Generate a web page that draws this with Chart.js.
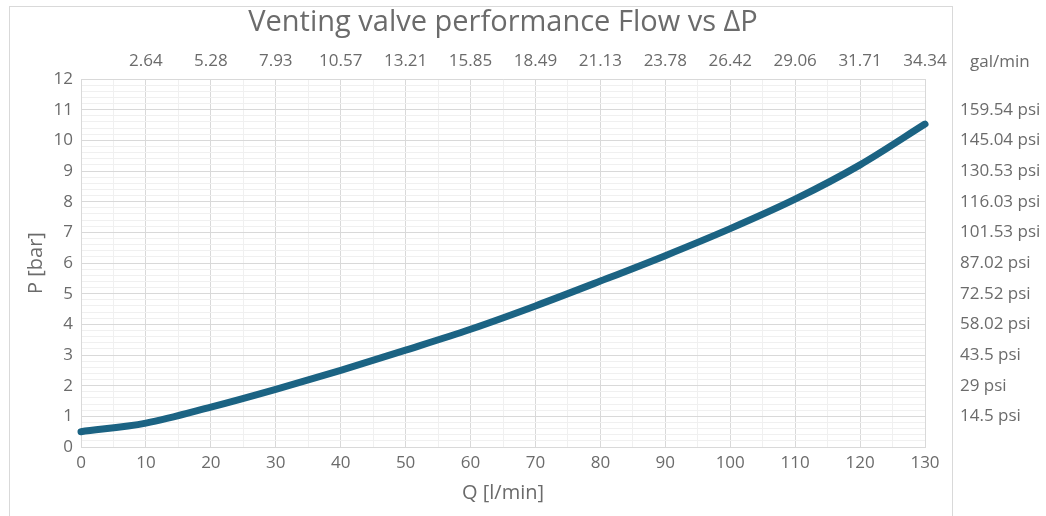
<!DOCTYPE html>
<html>
<head>
<meta charset="utf-8">
<title>Venting valve performance Flow vs ΔP</title>
<script src="https://cdn.jsdelivr.net/npm/chart.js@4.4.1/dist/chart.umd.min.js"></script>
<style>
  body { margin: 0; background: #fff; }
  #wrap { width: 1046px; height: 516px; }
</style>
</head>
<body>
<div id="wrap"><canvas id="myChart"></canvas></div>
<script>
"use strict";
// flow in l/min, pressure in bar
var flow = [0, 10, 20, 30, 40, 50, 60, 70, 80, 90, 100, 110, 120, 130];
var pressure = [0.50, 0.78, 1.30, 1.88, 2.50, 3.16, 3.84, 4.60, 5.41, 6.24, 7.12, 8.08, 9.20, 10.53];
// secondary labels
var galLabels = ["", "2.64", "5.28", "7.93", "10.57", "13.21", "15.85", "18.49", "21.13", "23.78", "26.42", "29.06", "31.71", "34.34"];
var psiLabels = ["", "14.5 psi", "29 psi", "43.5 psi", "58.02 psi", "72.52 psi", "87.02 psi", "101.53 psi", "116.03 psi", "130.53 psi", "145.04 psi", "159.54 psi", ""];

var FONT = "'Open Sans', sans-serif";
var TXT = "#6b6b6b";
var MAJOR = "#d9d9d9";
var MINOR = "#f0f0f0";

var points = flow.map(function (q, i) { return { x: q, y: pressure[i] }; });

function isInt(v) { return Math.abs(v - Math.round(v)) < 1e-6; }

var extras = {
    id: "extras",
    beforeDraw: function (chart) {
        var c = chart.ctx;
        c.save();
        c.fillStyle = "#fff";
        c.fillRect(0, 0, chart.width, chart.height);
        c.restore();
    },
    afterDraw: function (chart) {
        var c = chart.ctx;
        c.save();
        c.strokeStyle = MAJOR;
        c.lineWidth = 1;
        c.strokeRect(9.5, 6.5, 943, 530);
        c.fillStyle = TXT;
        c.font = "17px " + FONT;
        c.textBaseline = "middle";
        c.textAlign = "left";
        c.fillText("gal/min", 970, 62);
        c.restore();
    }
};

var ctx = document.getElementById("myChart");
var myChart = new Chart(ctx, {
    type: "line",
    data: {
        datasets: [{
            data: points,
            xAxisID: "x",
            yAxisID: "y",
            borderColor: "#1b6383",
            borderWidth: 7,
            borderCapStyle: "round",
            borderJoinStyle: "round",
            pointRadius: 0,
            cubicInterpolationMode: "monotone",
            clip: false
        }]
    },
    options: {
        responsive: true,
        maintainAspectRatio: false,
        animation: false,
        layout: { padding: 0 },
        plugins: {
            legend: { display: false },
            tooltip: { enabled: false },
            title: {
                display: true,
                text: "Venting valve performance Flow vs ΔP",
                fullSize: false,
                color: TXT,
                font: { family: FONT, size: 29, weight: "normal" },
                padding: { top: 5, bottom: 4 }
            }
        },
        scales: {
            x: {
                type: "linear",
                position: "bottom",
                min: 0,
                max: 130,
                afterFit: function (s) { s.height = 69; },
                border: { color: MAJOR },
                grid: {
                    drawTicks: false,
                    color: function (c) { return c.tick && c.tick.value % 10 === 0 ? MAJOR : MINOR; }
                },
                ticks: {
                    stepSize: 5,
                    autoSkip: false,
                    maxRotation: 0,
                    padding: 6,
                    color: TXT,
                    font: { family: FONT, size: 17 },
                    callback: function (v) { return v % 10 === 0 ? v : ""; }
                },
                title: {
                    display: true,
                    text: "Q [l/min]",
                    color: TXT,
                    font: { family: FONT, size: 20 },
                    padding: { top: 0, bottom: 11 }
                }
            },
            x2: {
                type: "linear",
                position: "top",
                min: 0,
                max: 130,
                afterFit: function (s) { s.height = 35.2; },
                border: { display: false },
                grid: { display: false, drawTicks: false },
                ticks: {
                    stepSize: 10,
                    autoSkip: false,
                    maxRotation: 0,
                    padding: 8,
                    color: TXT,
                    font: { family: FONT, size: 17 },
                    callback: function (v, i) { return galLabels[i]; }
                }
            },
            y: {
                type: "linear",
                position: "left",
                min: 0,
                max: 12,
                afterFit: function (s) { s.width = 81; },
                border: { color: MAJOR },
                grid: {
                    drawTicks: false,
                    color: function (c) { return c.tick && isInt(c.tick.value) ? MAJOR : MINOR; }
                },
                ticks: {
                    stepSize: 0.2,
                    autoSkip: false,
                    padding: 8,
                    color: TXT,
                    font: { family: FONT, size: 17 },
                    callback: function (v) { return isInt(v) ? Math.round(v) : ""; }
                },
                title: {
                    display: true,
                    text: "P [bar]",
                    color: TXT,
                    font: { family: FONT, size: 20 },
                    padding: { top: 24, bottom: 0 }
                }
            },
            y2: {
                type: "linear",
                position: "right",
                min: 0,
                max: 12,
                afterFit: function (s) { s.width = 121; },
                border: { display: false },
                grid: { display: false, drawTicks: false },
                ticks: {
                    stepSize: 1,
                    autoSkip: false,
                    padding: 35,
                    color: TXT,
                    font: { family: FONT, size: 17 },
                    callback: function (v, i) { return psiLabels[i]; }
                }
            }
        }
    },
    plugins: [extras]
});
</script>
</body>
</html>
